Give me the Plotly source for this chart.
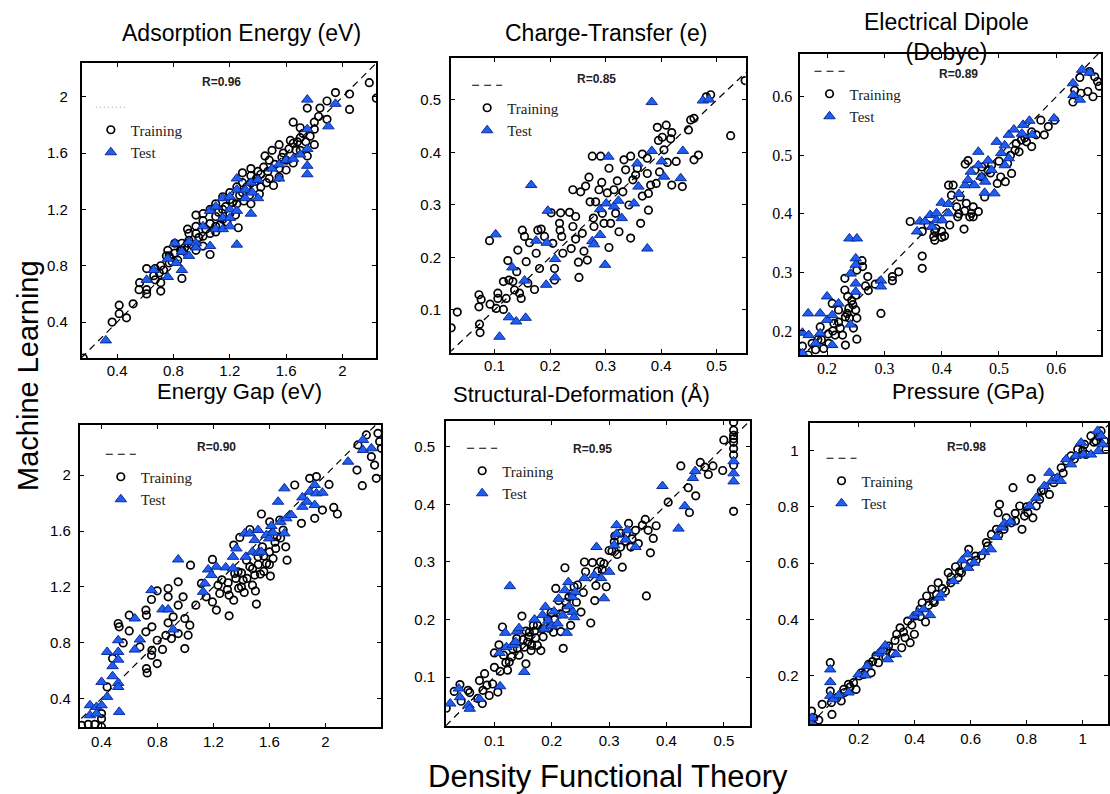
import plotly.graph_objects as go

# ---------------- DATA (DFT value, ML value) ----------------
p1_train = [[0.16,0.145],[0.365,0.40],[0.415,0.52],[0.415,0.46],[0.467,0.43],[0.514,0.53],[0.56,0.68],[0.556,0.63],
 [0.61,0.78],[0.61,0.63],[0.61,0.60],[0.67,0.70],[0.71,0.80],[0.71,0.68],[0.71,0.62],[0.76,0.91],[0.77,0.82],
 [0.81,0.89],[0.86,0.96],[0.86,0.71],[0.86,0.91],[0.90,1.06],[0.90,0.96],[0.96,1.16],[0.96,1.03],[0.96,0.91],
 [1.01,1.17],[1.01,1.01],[1.01,0.94],[1.06,1.10],[1.06,0.88],[1.06,1.03],[1.10,1.24],[1.10,1.08],[1.10,1.04],
 [1.15,1.13],[1.15,1.20],[1.20,1.32],[1.20,1.17],[1.25,1.24],[1.26,1.07],[1.29,1.46],[1.29,1.32],[1.35,1.49],
 [1.35,1.39],[1.35,1.24],[1.40,1.47],[1.41,1.31],[1.45,1.58],[1.46,1.39],[1.50,1.62],[1.51,1.37],[1.55,1.66],
 [1.55,1.49],[1.55,1.43],[1.60,1.55],[1.65,1.82],[1.65,1.67],[1.70,1.78],[1.70,1.71],[1.70,1.62],[1.65,1.53],
 [1.75,1.92],[1.75,1.58],[1.80,1.82],[1.80,1.77],[1.80,1.66],[1.84,1.92],[1.89,1.97],[1.89,1.84],[1.95,2.03],
 [2.05,2.02],[2.05,1.91],[2.19,2.10],[2.24,1.99],[1.48,1.55],[1.39,1.42],[1.29,1.39],[1.15,1.29],[1.06,1.20],
 [0.96,1.08],[0.91,0.98],[0.81,0.96],[0.75,0.87],[0.67,0.78],[0.66,0.73],[1.58,1.60],[1.72,1.74],[1.63,1.69],
 [1.77,1.72],[1.44,1.50],[1.35,1.44],[1.25,1.36],[1.20,1.27],[1.10,1.15],[1.01,1.12],[0.91,1.03],[0.85,0.91],
 [0.77,0.87],[0.70,0.75],[1.12,1.18],[1.17,1.22],[1.22,1.25],[1.27,1.30],[1.32,1.36],[1.38,1.40],[1.42,1.45],
 [1.47,1.47],[1.52,1.52],[1.57,1.57],[1.62,1.63],[1.67,1.62],[1.03,1.06],[0.98,1.00],[0.93,0.95],[0.88,0.93],
 [0.83,0.84],[0.79,0.83],[0.73,0.77],[1.30,1.26],[1.34,1.30],[1.24,1.16],[1.18,1.11],[1.13,1.09],[1.42,1.36],
 [1.48,1.42],[1.60,1.48],[1.68,1.68],[1.74,1.68],[1.83,1.86]]
p1_test = [[0.32,0.27],[0.61,0.70],[0.66,0.77],[0.76,0.85],[0.76,0.72],[0.81,0.96],[0.82,0.82],[0.86,0.77],
 [0.86,0.90],[0.91,0.97],[0.91,0.87],[0.96,0.96],[0.96,0.93],[1.01,1.08],[1.06,1.19],[1.06,0.94],[1.10,1.22],
 [1.10,1.06],[1.15,1.28],[1.15,1.14],[1.15,1.06],[1.20,1.29],[1.20,1.20],[1.20,1.14],[1.20,1.08],[1.25,1.42],
 [1.25,1.34],[1.25,1.19],[1.25,0.95],[1.31,1.28],[1.31,1.34],[1.35,1.39],[1.35,1.17],[1.36,1.32],[1.40,1.41],
 [1.40,1.28],[1.50,1.49],[1.55,1.42],[1.55,1.52],[1.60,1.55],[1.65,1.56],[1.70,1.59],[1.75,1.98],[1.75,1.77],
 [1.75,1.63],[1.75,1.51],[1.75,1.45],[1.90,1.79],[1.95,1.95]]

p2_train = [[0.022,0.066],[0.033,0.096],[0.072,0.129],[0.072,0.106],[0.073,0.073],[0.074,0.057],[0.076,0.120],
 [0.091,0.232],[0.092,0.111],[0.103,0.103],[0.106,0.132],[0.106,0.122],[0.116,0.101],[0.116,0.154],[0.121,0.122],
 [0.124,0.194],[0.126,0.157],[0.133,0.154],[0.136,0.138],[0.140,0.173],[0.142,0.214],[0.145,0.132],[0.148,0.122],
 [0.150,0.252],[0.154,0.240],[0.157,0.192],[0.160,0.151],[0.163,0.228],[0.172,0.139],[0.175,0.208],[0.178,0.252],
 [0.181,0.179],[0.184,0.254],[0.190,0.240],[0.202,0.285],[0.205,0.227],[0.208,0.179],[0.208,0.157],[0.217,0.265],
 [0.218,0.252],[0.219,0.285],[0.221,0.240],[0.223,0.208],[0.235,0.286],[0.238,0.217],[0.241,0.259],[0.241,0.329],
 [0.246,0.235],[0.246,0.278],[0.251,0.191],[0.252,0.162],[0.255,0.325],[0.258,0.246],[0.261,0.212],[0.264,0.336],
 [0.267,0.195],[0.270,0.353],[0.272,0.306],[0.276,0.393],[0.278,0.275],[0.279,0.259],[0.282,0.306],[0.288,0.329],
 [0.291,0.393],[0.293,0.343],[0.294,0.284],[0.297,0.265],[0.303,0.323],[0.306,0.370],[0.306,0.219],[0.309,0.265],
 [0.315,0.329],[0.318,0.284],[0.321,0.346],[0.324,0.249],[0.331,0.325],[0.333,0.386],[0.336,0.367],[0.342,0.300],
 [0.345,0.237],[0.345,0.393],[0.349,0.348],[0.354,0.357],[0.357,0.370],[0.363,0.265],[0.366,0.397],[0.366,0.317],
 [0.375,0.389],[0.375,0.360],[0.377,0.290],[0.377,0.322],[0.381,0.338],[0.391,0.341],[0.393,0.448],[0.395,0.423],
 [0.397,0.363],[0.402,0.429],[0.405,0.405],[0.409,0.452],[0.411,0.381],[0.417,0.426],[0.419,0.438],[0.419,0.338],
 [0.427,0.383],[0.438,0.335],[0.449,0.443],[0.453,0.462],[0.459,0.465],[0.459,0.386],[0.467,0.395],[0.481,0.506],
 [0.489,0.510],[0.525,0.432],[0.551,0.537]]
p2_test = [[0.102,0.244],[0.109,0.049],[0.126,0.086],[0.132,0.181],[0.139,0.078],[0.154,0.156],[0.156,0.085],
 [0.166,0.338],[0.175,0.232],[0.193,0.148],[0.194,0.228],[0.196,0.289],[0.209,0.197],[0.209,0.162],[0.276,0.231],
 [0.279,0.225],[0.290,0.292],[0.290,0.243],[0.299,0.186],[0.301,0.303],[0.305,0.392],[0.315,0.297],[0.323,0.308],
 [0.329,0.275],[0.351,0.303],[0.357,0.379],[0.359,0.335],[0.375,0.217],[0.383,0.496],[0.383,0.403],[0.401,0.383],
 [0.405,0.354],[0.435,0.351],[0.439,0.403],[0.475,0.499],[0.486,0.501]]

p3_train = [[0.157,0.174],[0.167,0.159],[0.174,0.179],[0.180,0.168],[0.184,0.185],[0.188,0.207],[0.194,0.170],
 [0.202,0.195],[0.203,0.179],[0.209,0.247],[0.212,0.213],[0.214,0.193],[0.220,0.236],[0.223,0.205],[0.227,0.193],
 [0.231,0.290],[0.231,0.270],[0.232,0.224],[0.232,0.176],[0.236,0.259],[0.238,0.239],[0.239,0.222],[0.243,0.252],
 [0.246,0.205],[0.250,0.261],[0.250,0.236],[0.252,0.186],[0.252,0.222],[0.252,0.304],[0.261,0.320],[0.262,0.310],
 [0.267,0.277],[0.271,0.293],[0.272,0.269],[0.284,0.280],[0.294,0.230],[0.314,0.293],[0.314,0.286],[0.325,0.301],
 [0.345,0.387],[0.366,0.328],[0.366,0.307],[0.366,0.370],[0.376,0.381],[0.386,0.361],[0.388,0.370],[0.388,0.355],
 [0.400,0.370],[0.405,0.362],[0.412,0.449],[0.414,0.381],[0.417,0.432],[0.420,0.449],[0.426,0.412],[0.428,0.395],
 [0.432,0.429],[0.439,0.374],[0.441,0.485],[0.443,0.418],[0.446,0.491],[0.449,0.395],[0.452,0.401],[0.455,0.412],
 [0.458,0.475],[0.464,0.404],[0.470,0.463],[0.475,0.429],[0.481,0.475],[0.487,0.483],[0.497,0.452],[0.503,0.463],
 [0.511,0.455],[0.515,0.486],[0.522,0.469],[0.528,0.509],[0.535,0.506],[0.539,0.526],[0.548,0.523],[0.557,0.515],
 [0.557,0.540],[0.565,0.535],[0.573,0.560],[0.579,0.535],[0.586,0.549],[0.597,0.560],[0.629,0.591],[0.632,0.611],
 [0.641,0.633],[0.643,0.606],[0.655,0.609],[0.664,0.600],[0.667,0.634],[0.672,0.626],[0.675,0.618],[0.658,0.643],
 [0.430,0.400],[0.440,0.405],[0.455,0.395],[0.470,0.480],[0.485,0.470],[0.500,0.490],[0.520,0.500],[0.530,0.520],
 [0.545,0.530],[0.210,0.200],[0.220,0.215],[0.235,0.230],[0.245,0.245],[0.190,0.185],[0.400,0.360],[0.390,0.375]]
p3_test = [[0.157,0.162],[0.157,0.197],[0.167,0.230],[0.168,0.193],[0.180,0.179],[0.188,0.230],[0.188,0.196],
 [0.200,0.259],[0.200,0.219],[0.209,0.176],[0.209,0.227],[0.220,0.247],[0.239,0.358],[0.241,0.211],[0.241,0.298],
 [0.252,0.358],[0.250,0.324],[0.250,0.313],[0.250,0.281],[0.250,0.267],[0.294,0.286],[0.294,0.276],[0.357,0.370],
 [0.362,0.387],[0.371,0.387],[0.380,0.398],[0.383,0.378],[0.391,0.401],[0.391,0.389],[0.400,0.419],[0.401,0.389],
 [0.412,0.417],[0.412,0.401],[0.430,0.434],[0.441,0.449],[0.446,0.458],[0.451,0.472],[0.457,0.449],[0.464,0.506],
 [0.464,0.483],[0.470,0.463],[0.475,0.436],[0.476,0.455],[0.481,0.491],[0.487,0.475],[0.492,0.435],[0.496,0.523],
 [0.504,0.504],[0.510,0.483],[0.510,0.517],[0.517,0.535],[0.517,0.495],[0.526,0.544],[0.540,0.537],[0.542,0.552],
 [0.553,0.559],[0.558,0.535],[0.596,0.563],[0.629,0.623],[0.630,0.603],[0.641,0.595],[0.645,0.646],[0.658,0.641]]

p4_train = [[0.257,0.207],[0.305,0.214],[0.352,0.214],[0.40,0.195],[0.40,0.255],[0.40,0.291],[0.44,0.482],
 [0.479,0.686],[0.519,0.937],[0.526,0.913],[0.555,0.798],[0.598,0.884],[0.598,0.997],[0.674,0.769],[0.717,1.033],
 [0.717,0.877],[0.721,0.997],[0.721,0.614],[0.726,0.583],[0.76,0.745],[0.76,0.913],[0.757,1.109],[0.757,0.710],
 [0.798,1.171],[0.798,0.817],[0.798,0.650],[0.836,0.751],[0.86,0.852],[0.876,1.188],[0.876,1.128],[0.876,0.942],
 [0.90,0.829],[0.912,0.985],[0.948,1.236],[0.948,1.068],[0.948,0.865],[0.983,1.128],[0.995,0.973],[0.995,0.757],
 [1.019,0.853],[1.031,0.925],[1.036,1.355],[1.074,1.068],[1.114,1.224],[1.148,1.128],[1.193,1.396],[1.193,1.092],
 [1.221,1.033],[1.233,1.212],[1.245,1.152],[1.305,1.229],[1.312,0.992],[1.312,1.140],[1.345,1.499],[1.345,1.104],
 [1.352,1.296],[1.376,1.308],[1.388,1.554],[1.40,1.20],[1.412,1.248],[1.436,1.391],[1.46,1.611],[1.46,1.344],
 [1.479,1.212],[1.495,1.284],[1.507,1.076],[1.519,1.415],[1.536,1.291],[1.543,1.722],[1.55,1.487],[1.579,1.368],
 [1.602,1.666],[1.607,1.277],[1.626,1.403],[1.645,1.475],[1.655,1.559],[1.674,1.679],[1.698,1.607],[1.717,1.487],
 [1.726,1.391],[1.781,1.930],[1.829,1.655],[1.888,1.978],[1.924,1.691],[1.936,1.990],[1.979,1.750],[2.026,1.934],
 [2.060,1.769],[2.086,1.722],[2.226,2.037],[2.264,1.925],[2.233,2.217],[2.293,2.289],[2.329,2.133],[2.352,2.073],
 [2.364,1.978],[2.376,2.300],[2.388,2.241],[2.40,2.193],[1.36,1.26],[1.40,1.30],[1.44,1.26],[1.48,1.33],
 [1.52,1.36],[1.56,1.42],[1.60,1.45],[1.64,1.52],[1.68,1.55],[1.38,1.19],[1.42,1.16],[1.50,1.17],[1.30,1.18],
 [1.26,1.25],[1.60,1.36],[1.56,1.31]]
p4_test = [[0.317,0.351],[0.317,0.279],[0.364,0.339],[0.364,0.291],[0.40,0.351],[0.40,0.518],[0.44,0.733],
 [0.44,0.411],[0.479,0.631],[0.479,0.559],[0.519,0.817],[0.519,0.733],[0.519,0.678],[0.519,0.511],[0.519,0.482],
 [0.526,0.303],[0.638,0.973],[0.638,0.750],[0.674,0.822],[0.757,1.176],[0.836,1.038],[0.876,1.038],[0.912,0.894],
 [0.948,1.396],[1.126,1.164],[1.138,1.224],[1.162,1.324],[1.186,1.284],[1.221,1.344],[1.288,1.339],[1.340,1.415],
 [1.340,1.332],[1.364,1.475],[1.424,1.583],[1.431,1.415],[1.460,1.583],[1.479,1.451],[1.495,1.535],[1.519,1.607],
 [1.519,1.443],[1.543,1.451],[1.579,1.571],[1.598,1.547],[1.614,1.636],[1.626,1.588],[1.662,1.810],[1.679,1.666],
 [1.707,1.906],[1.707,1.583],[1.721,1.691],[1.757,1.715],[1.836,1.841],[1.836,1.774],[1.869,1.810],[1.888,1.882],
 [1.924,1.930],[1.924,1.786],[1.936,1.870],[1.979,1.875],[2.162,2.097],[2.269,2.253],[2.269,2.181],[2.329,2.193]]

p5_train = [[0.016,0.046],[0.030,0.075],[0.040,0.087],[0.042,0.058],[0.054,0.077],[0.057,0.073],[0.071,0.063],
 [0.074,0.094],[0.079,0.054],[0.080,0.077],[0.083,0.106],[0.087,0.086],[0.091,0.068],[0.097,0.088],[0.100,0.142],
 [0.100,0.117],[0.106,0.074],[0.108,0.156],[0.110,0.110],[0.114,0.187],[0.116,0.138],[0.123,0.112],[0.126,0.126],
 [0.132,0.149],[0.139,0.167],[0.143,0.138],[0.148,0.206],[0.152,0.152],[0.155,0.123],[0.158,0.161],[0.161,0.178],
 [0.164,0.146],[0.168,0.190],[0.172,0.168],[0.175,0.155],[0.181,0.146],[0.184,0.184],[0.193,0.201],[0.199,0.212],
 [0.203,0.178],[0.207,0.254],[0.212,0.233],[0.216,0.179],[0.220,0.150],[0.223,0.290],[0.225,0.219],[0.230,0.239],
 [0.233,0.190],[0.239,0.257],[0.243,0.230],[0.251,0.213],[0.255,0.247],[0.257,0.300],[0.259,0.283],[0.268,0.194],
 [0.271,0.299],[0.275,0.233],[0.277,0.259],[0.280,0.284],[0.288,0.287],[0.295,0.257],[0.291,0.297],[0.305,0.319],
 [0.309,0.335],[0.314,0.313],[0.320,0.326],[0.323,0.291],[0.329,0.336],[0.334,0.367],[0.338,0.326],[0.346,0.355],
 [0.351,0.332],[0.358,0.364],[0.363,0.374],[0.365,0.241],[0.368,0.355],[0.372,0.316],[0.377,0.341],[0.382,0.363],
 [0.403,0.404],[0.425,0.467],[0.438,0.429],[0.440,0.386],[0.451,0.415],[0.459,0.473],[0.467,0.465],[0.473,0.452],
 [0.481,0.467],[0.498,0.459],[0.500,0.512],[0.517,0.543],[0.517,0.529],[0.517,0.520],[0.517,0.514],[0.517,0.508],
 [0.517,0.497],[0.517,0.486],[0.517,0.468],[0.517,0.388],[0.150,0.165],[0.160,0.170],[0.170,0.180],[0.155,0.180],
 [0.165,0.155],[0.175,0.190],[0.185,0.170],[0.195,0.185],[0.205,0.200],[0.215,0.210],[0.225,0.230],[0.235,0.245],
 [0.245,0.260],[0.140,0.150],[0.130,0.135],[0.120,0.125],[0.310,0.345],[0.320,0.350],[0.330,0.350],[0.340,0.340],
 [0.300,0.320],[0.285,0.300]]
p5_test = [[0.023,0.054],[0.038,0.080],[0.040,0.065],[0.055,0.051],[0.057,0.045],[0.074,0.062],[0.110,0.084],
 [0.109,0.142],[0.119,0.177],[0.121,0.152],[0.127,0.258],[0.132,0.156],[0.137,0.161],[0.139,0.179],[0.143,0.185],
 [0.152,0.109],[0.170,0.200],[0.184,0.208],[0.187,0.184],[0.189,0.222],[0.194,0.198],[0.200,0.189],[0.204,0.214],
 [0.210,0.193],[0.212,0.236],[0.219,0.207],[0.223,0.251],[0.226,0.177],[0.229,0.265],[0.230,0.223],[0.236,0.239],
 [0.237,0.213],[0.239,0.204],[0.241,0.248],[0.257,0.272],[0.274,0.277],[0.278,0.326],[0.286,0.272],[0.291,0.237],
 [0.300,0.283],[0.309,0.329],[0.313,0.364],[0.313,0.349],[0.329,0.339],[0.332,0.355],[0.346,0.326],[0.393,0.432],
 [0.421,0.358],[0.432,0.397],[0.446,0.446],[0.450,0.458],[0.517,0.475],[0.517,0.454],[0.517,0.440]]

p6_train = [[0.022,0.039],[0.032,0.074],[0.040,0.050],[0.058,0.042],[0.070,0.098],[0.099,0.246],[0.099,0.145],
 [0.103,0.104],[0.105,0.062],[0.123,0.122],[0.138,0.110],[0.147,0.151],[0.164,0.169],[0.182,0.175],[0.191,0.151],
 [0.202,0.199],[0.218,0.204],[0.236,0.240],[0.245,0.210],[0.262,0.270],[0.271,0.246],[0.289,0.293],[0.297,0.267],
 [0.307,0.305],[0.321,0.279],[0.336,0.347],[0.348,0.370],[0.354,0.299],[0.366,0.335],[0.375,0.394],[0.384,0.317],
 [0.399,0.347],[0.401,0.412],[0.419,0.436],[0.427,0.459],[0.439,0.391],[0.443,0.483],[0.461,0.507],[0.466,0.465],
 [0.478,0.489],[0.484,0.530],[0.499,0.509],[0.520,0.566],[0.529,0.530],[0.546,0.587],[0.555,0.548],[0.567,0.566],
 [0.579,0.593],[0.593,0.649],[0.600,0.601],[0.617,0.625],[0.638,0.627],[0.656,0.673],[0.674,0.702],[0.692,0.720],
 [0.698,0.779],[0.703,0.809],[0.719,0.720],[0.727,0.761],[0.745,0.743],[0.751,0.868],[0.759,0.777],[0.775,0.803],
 [0.783,0.720],[0.792,0.767],[0.804,0.779],[0.816,0.900],[0.822,0.761],[0.834,0.803],[0.846,0.826],[0.852,0.856],
 [0.881,0.844],[0.897,0.886],[0.923,0.939],[0.941,0.963],[0.958,0.981],[0.982,1.004],[1.006,1.022],[1.011,0.986],
 [1.029,1.052],[1.047,1.034],[1.065,1.070],[1.077,1.034],[1.083,1.004],[0.30,0.29],[0.33,0.325],[0.36,0.355],
 [0.39,0.38],[0.42,0.41],[0.45,0.45],[0.47,0.46],[0.51,0.50],[0.53,0.55],[0.56,0.57],[0.62,0.61],[0.66,0.66],
 [0.70,0.70],[0.76,0.75],[0.80,0.80],[0.86,0.86],[0.90,0.90],[0.93,0.92],[0.97,0.97],[1.00,1.00],[1.04,1.03],
 [1.06,1.05],[0.15,0.14],[0.17,0.16],[0.21,0.21],[0.25,0.25]]
p6_test = [[0.028,0.033],[0.034,0.050],[0.099,0.222],[0.099,0.177],[0.099,0.128],[0.111,0.116],[0.129,0.130],
 [0.164,0.140],[0.200,0.204],[0.224,0.201],[0.230,0.234],[0.271,0.279],[0.283,0.287],[0.295,0.307],[0.304,0.258],
 [0.333,0.276],[0.396,0.412],[0.412,0.424],[0.432,0.436],[0.455,0.415],[0.487,0.477],[0.494,0.489],[0.538,0.536],
 [0.570,0.610],[0.589,0.631],[0.591,0.583],[0.612,0.601],[0.648,0.639],[0.672,0.649],[0.692,0.693],[0.709,0.726],
 [0.721,0.741],[0.742,0.747],[0.810,0.803],[0.834,0.832],[0.863,0.874],[0.881,0.921],[0.890,0.892],[0.909,0.903],
 [0.921,0.892],[0.941,0.969],[0.958,0.951],[0.976,0.981],[0.994,1.028],[1.003,0.986],[1.029,0.986],[1.053,1.070],
 [1.055,0.998],[1.065,1.052],[1.071,1.022]]

train_sets = [p1_train, p2_train, p3_train, p4_train, p5_train, p6_train]
test_sets = [p1_test, p2_test, p3_test, p4_test, p5_test, p6_test]
r_values = ["R=0.96", "R=0.85", "R=0.89", "R=0.90", "R=0.95", "R=0.98"]
panel_titles = ["Adsorption Energy (eV)", "Charge-Transfer (e)", "Electrical Dipole<br>(Debye)",
                "Energy Gap (eV)", "Structural-Deformation (Å)", "Pressure (GPa)"]
tick_values = [[0.4, 0.8, 1.2, 1.6, 2], [0.1, 0.2, 0.3, 0.4, 0.5], [0.2, 0.3, 0.4, 0.5, 0.6],
               [0.4, 0.8, 1.2, 1.6, 2], [0.1, 0.2, 0.3, 0.4, 0.5], [0.2, 0.4, 0.6, 0.8, 1]]
tick_labels = [["0.4", "0.8", "1.2", "1.6", "2"], ["0.1", "0.2", "0.3", "0.4", "0.5"],
               ["0.2", "0.3", "0.4", "0.5", "0.6"], ["0.4", "0.8", "1.2", "1.6", "2"],
               ["0.1", "0.2", "0.3", "0.4", "0.5"], ["0.2", "0.4", "0.6", "0.8", "1"]]
x_ranges = [[0.15, 2.24], [0.022, 0.552], [0.152, 0.678], [0.245, 2.40], [0.016, 0.545], [0.025, 1.09]]
y_ranges = [[0.145, 2.24], [0.018, 0.58], [0.159, 0.673], [0.195, 2.36], [0.015, 0.545], [0.028, 1.098]]

# ---------------- LAYOUT GEOMETRY ----------------
W, H = 1110, 794
frames = [(82, 377, 63, 358), (452, 747, 58, 353), (801, 1103, 54, 355),
          (80, 382, 425, 727), (447, 751, 421, 726), (811, 1110, 423, 724)]
# (x centre, y, yanchor, size)
title_pos = [(242, 33, "middle", 23), (607, 33, "middle", 23), (948, 37, "middle", 23),
             (240, 377, "top", 22), (583, 380, "top", 22), (970, 377, "top", 22)]
r_pos = [(222, 82), (598, 79), (960, 74), (217, 447), (594, 449), (968, 447)]
legend_pos = [(91, 91), (468, 69), (811, 55), (101, 438), (463, 432), (823, 442)]
ystandoff = [9, 5, 2, 4, 6, 6]
xstandoff = [-2, -2, -2, 0, 0, 0]

BLUE = "#1f5ef0"
BLUE_EDGE = "#0d2c9c"

fig = go.Figure()
layout = dict(width=W, height=H, margin=dict(l=0, r=0, t=0, b=0),
              plot_bgcolor="white", paper_bgcolor="white", showlegend=True,
              annotations=[])

for i in range(6):
    n = i + 1
    xa = "x" if n == 1 else f"x{n}"
    ya = "y" if n == 1 else f"y{n}"
    lg = "legend" if n == 1 else f"legend{n}"
    tr = train_sets[i]
    te = test_sets[i]
    lo = min(x_ranges[i][0], y_ranges[i][0])
    hi = max(x_ranges[i][1], y_ranges[i][1])
    fig.add_trace(go.Scatter(x=[lo, hi], y=[lo, hi], mode="lines", xaxis=xa, yaxis=ya,
                             line=dict(color="black", width=1.2, dash="7px,5px"),
                             name="", showlegend=(i != 0), legend=lg, hoverinfo="skip"))
    if i == 0:
        fig.add_trace(go.Scatter(x=[None], y=[None], mode="lines", xaxis=xa, yaxis=ya,
                                 line=dict(color="#999999", width=1, dash="1px,3px"),
                                 name="", showlegend=True, legend=lg))
    fig.add_trace(go.Scatter(x=[p[0] for p in tr], y=[p[1] for p in tr], mode="markers",
                             xaxis=xa, yaxis=ya, name="Training", legend=lg,
                             marker=dict(symbol="circle-open", size=7.5, color="black",
                                         line=dict(width=1.7, color="black"))))
    fig.add_trace(go.Scatter(x=[p[0] for p in te], y=[p[1] for p in te], mode="markers",
                             xaxis=xa, yaxis=ya, name="Test", legend=lg,
                             marker=dict(symbol="triangle-up", size=10, color=BLUE,
                                         line=dict(width=1, color=BLUE_EDGE))))

    l, r, t, b = frames[i]
    serif = (i == 2)
    tfont = dict(family="Liberation Serif" if serif else "Liberation Sans",
                 size=16 if serif else 15, color="black")
    axcommon = dict(showgrid=False, zeroline=False, showline=True, linecolor="black",
                    linewidth=2, mirror="ticks", ticks="inside", ticklen=4, tickwidth=1,
                    tickcolor="black", tickfont=tfont, tickmode="array")
    layout["xaxis" if n == 1 else f"xaxis{n}"] = dict(
        domain=[l / W, r / W], anchor=ya, range=x_ranges[i],
        tickvals=tick_values[i], ticktext=tick_labels[i], ticklabelstandoff=xstandoff[i],
        **axcommon)
    layout["yaxis" if n == 1 else f"yaxis{n}"] = dict(
        domain=[1 - b / H, 1 - t / H], anchor=xa, range=y_ranges[i],
        tickvals=tick_values[i], ticktext=tick_labels[i], ticklabelstandoff=ystandoff[i],
        **axcommon)
    lx, ly = legend_pos[i]
    layout[lg] = dict(x=lx / W, y=1 - ly / H, xanchor="left", yanchor="top",
                      bgcolor="rgba(0,0,0,0)", borderwidth=0, tracegroupgap=0,
                      font=dict(family="Liberation Serif", size=15, color="#222"),
                      itemwidth=30)
    tx, ty, tanc, tsize = title_pos[i]
    layout["annotations"].append(dict(text=panel_titles[i], x=tx / W, y=1 - ty / H,
                                      xref="paper", yref="paper", showarrow=False,
                                      xanchor="center", yanchor=tanc,
                                      font=dict(family="Liberation Sans", size=tsize, color="black")))
    rx, ry = r_pos[i]
    layout["annotations"].append(dict(text="<b>" + r_values[i] + "</b>", x=rx / W, y=1 - ry / H,
                                      xref="paper", yref="paper", showarrow=False,
                                      xanchor="center", yanchor="middle",
                                      font=dict(family="Liberation Sans", size=12, color="#222")))

layout["annotations"].append(dict(text="Machine Learning", x=28 / W, y=1 - 375 / H, xref="paper",
                                  yref="paper", showarrow=False, textangle=-90,
                                  xanchor="center", yanchor="middle",
                                  font=dict(family="Liberation Sans", size=29, color="black")))
layout["annotations"].append(dict(text="Density Functional Theory", x=609 / W, y=1 - 776 / H,
                                  xref="paper", yref="paper", showarrow=False,
                                  xanchor="center", yanchor="middle",
                                  font=dict(family="Liberation Sans", size=31, color="black")))

fig.update_layout(**layout)
fig.write_html("out.html")
